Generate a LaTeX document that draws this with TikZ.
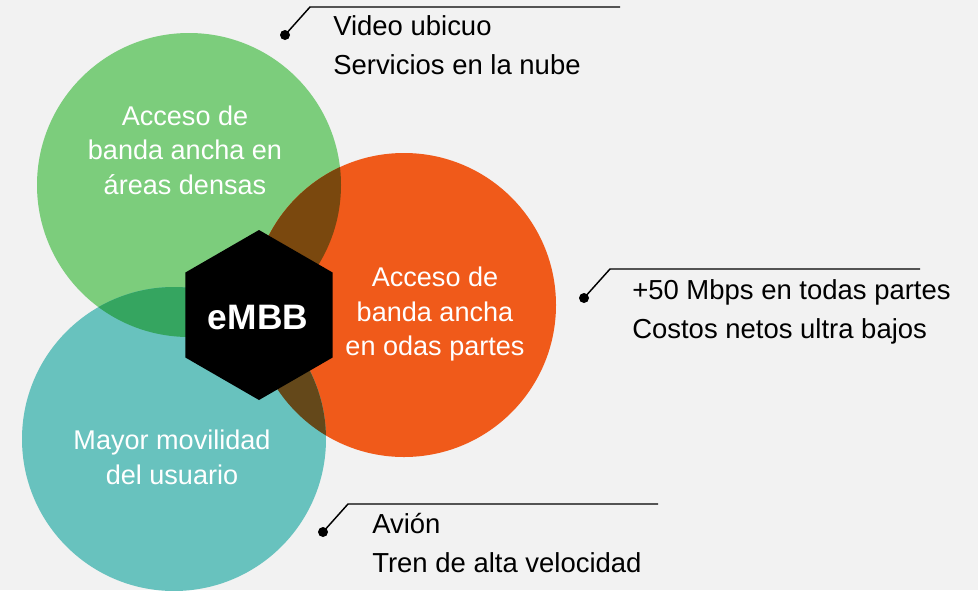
\documentclass[tikz,border=0pt]{standalone}
\usepackage{fontspec}
\setmainfont{Liberation Sans}
\usetikzlibrary{shapes.geometric}

\definecolor{bggray}{HTML}{F2F2F2}
\definecolor{vgreen}{HTML}{7CCD7C}
\definecolor{vorange}{HTML}{F05A1A}
\definecolor{vteal}{HTML}{68C2BE}
\definecolor{greenteal}{HTML}{35A560}
\definecolor{greenorange}{HTML}{7A480E}
\definecolor{tealorange}{HTML}{64481A}

\tikzset{
  circletext/.style={text=white, align=center, font=\fontsize{20.3}{26}\selectfont},
  callouttext/.style={anchor=base west, align=left, inner sep=0pt, font=\fontsize{20.6}{28.8}\selectfont},
  calloutdot/.style={circle, fill=black, inner sep=0pt, minimum size=7.5pt},
  calloutline/.style={line width=1.1pt}
}

\begin{document}
\begin{tikzpicture}[x=0.75pt, y=-0.75pt]
  % Background and size
  \fill[bggray] (0,0) rectangle (978,590);
  \useasboundingbox (0,0) rectangle (978,590);

  % Circle centers
  \coordinate (g) at (189,185);
  \coordinate (o) at (404,305);
  \coordinate (t) at (174,439);
  \def\rad{114pt}

  % Draw the three circles
  \fill[vgreen] (g) circle (\rad);
  \fill[vorange] (o) circle (\rad);
  \fill[vteal] (t) circle (\rad);

  % Overlaps
  \begin{scope}
    \clip (g) circle (\rad);
    \fill[greenteal] (t) circle (\rad);
    \fill[greenorange] (o) circle (\rad);
  \end{scope}
  \begin{scope}
    \clip (t) circle (\rad);
    \fill[tealorange] (o) circle (\rad);
  \end{scope}

  % Circle labels
  \node[circletext] (dense) at (185,150) {Acceso de\\banda ancha en\\áreas densas};
  \node[circletext] (ancha) at (435,314) {Acceso de\\banda ancha\\en odas partes};
  \node[circletext] (movil) at (172,457) {Mayor movilidad\\del usuario};

  % The hexagon in the middle
  \node[regular polygon, regular polygon sides=6, shape border rotate=30,
        fill=black, minimum size=127.5pt, inner sep=0pt] (hex) at (259,315) {};
  \node[text=white, font=\fontsize{26.5}{30}\selectfont\bfseries] (embb) at (258,318) {eMBB};

  % Callout: top (base = last line)
  \node[calloutdot] (dot1) at (285,35) {};
  \coordinate (bend1) at (310,7);
  \coordinate (end1) at (620,7);
  \draw[calloutline] (dot1.center) -- (bend1) -- (end1);
  \node[callouttext] (video) at (333,74) {Video ubicuo\\Servicios en la nube};

  % Callout: right
  \node[calloutdot] (dot2) at (584,298) {};
  \coordinate (bend2) at (610,269);
  \coordinate (end2) at (920,269);
  \draw[calloutline] (dot2.center) -- (bend2) -- (end2);
  \node[callouttext] (mbps) at (632,338) {+50 Mbps en todas partes\\Costos netos ultra bajos};

  % Callout: bottom
  \node[calloutdot] (dot3) at (323,532) {};
  \coordinate (bend3) at (348,504);
  \coordinate (end3) at (658,504);
  \draw[calloutline] (dot3.center) -- (bend3) -- (end3);
  \node[callouttext] (avion) at (372,572) {Avión\\Tren de alta velocidad};
\end{tikzpicture}
\end{document}
